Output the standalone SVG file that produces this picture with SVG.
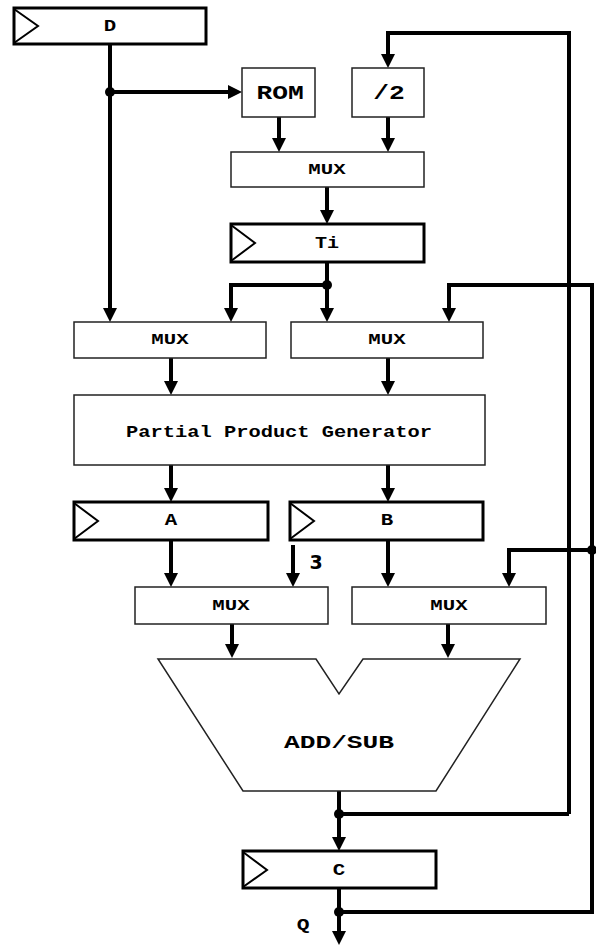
<svg xmlns="http://www.w3.org/2000/svg" width="596" height="948" viewBox="0 0 596 948">
<style>
.box{fill:#fff;stroke:#222;stroke-width:1.5}
.reg{fill:#fff;stroke:#000;stroke-width:3}
.clk{fill:none;stroke:#000;stroke-width:2}
.w{fill:none;stroke:#000;stroke-width:4;stroke-linejoin:miter}
.wa{fill:none;stroke:#000;stroke-width:4;marker-end:url(#ah)}
.t{font-family:"Liberation Mono","Courier New",monospace;font-weight:bold;fill:#000;text-anchor:middle;dominant-baseline:central}
.mux{font-size:15px}
.lab{font-size:17px}
.big{font-size:21px}
.dot{fill:#000}
</style>
<defs>
<marker id="ah" markerUnits="userSpaceOnUse" markerWidth="14" markerHeight="14" refX="6" refY="7" orient="auto">
<path d="M0,0 L14,7 L0,14 z" fill="#000"/>
</marker>
</defs>
<g id="connectors">
<path class="wa" d="M110,92 H234"/>
<path class="wa" d="M110,44 V314"/>
<path class="wa" d="M569,814 V33 H388 V60"/>
<path class="wa" d="M279,117 V144"/>
<path class="wa" d="M388,117 V144"/>
<path class="wa" d="M327,187 V216"/>
<path class="wa" d="M327,262 V314"/>
<path class="wa" d="M327,285 H231 V314"/>
<path class="wa" d="M339,912 H592 V285 H449 V314"/>
<path class="wa" d="M592,550 H509 V579"/>
<path class="wa" d="M171,358 V387"/>
<path class="wa" d="M388,358 V387"/>
<path class="wa" d="M171,465 V494"/>
<path class="wa" d="M388,465 V494"/>
<path class="wa" d="M171,540 V579"/>
<path class="wa" d="M388,540 V579"/>
<path class="wa" d="M293,545 V579"/>
<path class="wa" d="M232,624 V650"/>
<path class="wa" d="M448,624 V650"/>
<path class="wa" d="M339,791 V843"/>
<path class="w" d="M339,814 H569"/>
<path class="wa" d="M339,888 V937"/>
<circle class="dot" cx="110" cy="92" r="5"/>
<circle class="dot" cx="327" cy="285" r="5"/>
<circle class="dot" cx="592" cy="550" r="5"/>
<circle class="dot" cx="339" cy="814" r="5"/>
<circle class="dot" cx="339" cy="912" r="5"/>
<text x="316" y="562" font-family="'DejaVu Sans',sans-serif" font-weight="bold" font-size="19" text-anchor="middle" dominant-baseline="central">3</text>
<text class="t lab" transform="translate(303,926) scale(1.25,1)">Q</text>
</g>
<g id="regD">
<rect class="reg" x="14" y="8" width="192" height="36"/>
<path class="clk" d="M14,9 L38,26 L14,43"/>
<text class="t lab" transform="translate(110,27) scale(1.22,1)">D</text>
</g>
<g id="rom">
<rect class="box" x="242" y="68" width="73" height="49"/>
<text class="t big" transform="translate(280,93) scale(1.25,1)">ROM</text>
</g>
<g id="div2">
<rect class="box" x="352" y="68" width="72" height="49"/>
<text class="t big" transform="translate(389,93) scale(1.25,1)">/2</text>
</g>
<g id="mux1">
<rect class="box" x="231" y="152" width="193" height="35"/>
<text class="t mux" transform="translate(327,170) scale(1.38,1)">MUX</text>
</g>
<g id="regTi">
<rect class="reg" x="231" y="224" width="193" height="38"/>
<path class="clk" d="M231,225 L255,243 L231,261"/>
<text class="t lab" transform="translate(327,244) scale(1.18,1)">Ti</text>
</g>
<g id="muxL">
<rect class="box" x="74" y="322" width="192" height="36"/>
<text class="t mux" transform="translate(170,340) scale(1.38,1)">MUX</text>
</g>
<g id="muxR">
<rect class="box" x="291" y="322" width="192" height="36"/>
<text class="t mux" transform="translate(387,340) scale(1.38,1)">MUX</text>
</g>
<g id="ppg">
<rect class="box" x="74" y="395" width="411" height="70"/>
<text class="t lab" transform="translate(279,432) scale(1.2,1)">Partial Product Generator</text>
</g>
<g id="regA">
<rect class="reg" x="74" y="502" width="194" height="38"/>
<path class="clk" d="M74,503 L98,521 L74,539"/>
<text class="t lab" transform="translate(171,521) scale(1.22,1)">A</text>
</g>
<g id="regB">
<rect class="reg" x="290" y="502" width="193" height="38"/>
<path class="clk" d="M290,503 L314,521 L290,539"/>
<text class="t lab" transform="translate(387,521) scale(1.22,1)">B</text>
</g>
<g id="mux3">
<rect class="box" x="135" y="587" width="193" height="37"/>
<text class="t mux" transform="translate(231,606) scale(1.38,1)">MUX</text>
</g>
<g id="mux4">
<rect class="box" x="352" y="587" width="194" height="37"/>
<text class="t mux" transform="translate(449,606) scale(1.38,1)">MUX</text>
</g>
<g id="addsub">
<polygon class="box" points="158,659 316,659 339,694 363,659 520,659 436,791 243,791"/>
<text class="t" font-size="19" transform="translate(339,743) scale(1.38,1)">ADD/SUB</text>
</g>
<g id="regC">
<rect class="reg" x="243" y="851" width="193" height="37"/>
<path class="clk" d="M243,852 L267,870 L243,887"/>
<text class="t lab" transform="translate(339,871) scale(1.22,1)">C</text>
</g>
</svg>
